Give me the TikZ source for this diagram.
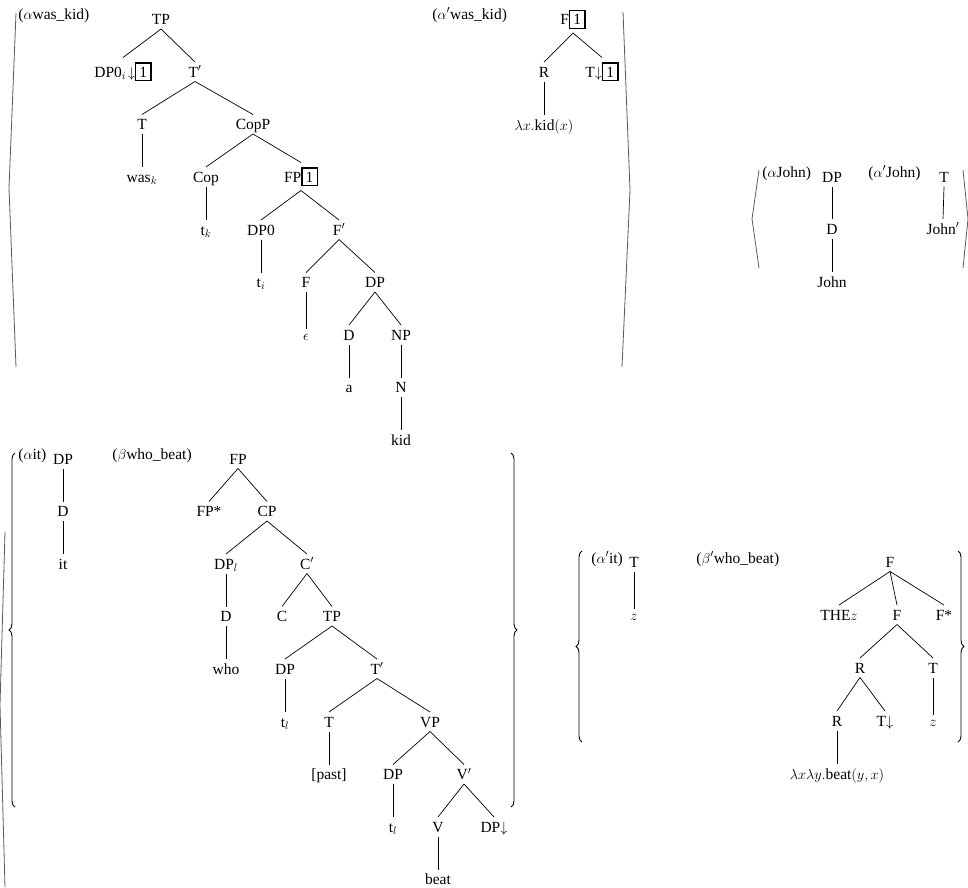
\documentclass[tikz,border=0pt]{standalone}
\usepackage{fontspec}
\setmainfont{Liberation Serif}
\usetikzlibrary{decorations.pathreplacing}
\newcommand{\treefont}{\fontsize{15.5}{18}\selectfont}
\newcommand{\boxnum}[1]{{\setlength{\fboxsep}{3pt}\setlength{\fboxrule}{1.4pt}\fbox{#1}}}
\begin{document}
\begin{tikzpicture}[x=1pt,y=-1pt,
    tn/.style={anchor=base, font=\treefont, inner sep=0pt, outer sep=4.5pt, text height=10.5pt, text depth=0pt},
    tnb/.style={tn, text height=15pt, text depth=4pt},
    tnx/.style={tn, text height=7pt},
    lab/.style={anchor=base west, font=\treefont, inner sep=0pt},
    ang/.style={draw=black!65, line width=0.8pt},
    brc/.style={decorate, decoration={brace, amplitude=6pt}, line width=0.9pt},
    every path/.style={line width=0.7pt}]
                \useasboundingbox (0,0) rectangle (968,887);
                \node[lab] at (18,19) {($\alpha$was\_kid)};
                \node[tn] (atp) at (161,24.5) {TP};
                \node[tnb] (adp) at (123,77) {DP0$_i\!\downarrow$\boxnum{1}};
                \node[tn] (atb) at (195,77) {T$'$};
                \node[tn] (at) at (142,129.5) {T};
                \node[tn] (acopp) at (253,129.5) {CopP};
                \node[tn] (awas) at (142,182) {was$_k$};
                \node[tn] (acop) at (206,182) {Cop};
                \node[tnb] (afp) at (301,182) {FP\boxnum{1}};
                \node[tn] (atk) at (206,235) {t$_k$};
                \node[tn] (adpz) at (261,235) {DP0};
                \node[tn] (afb) at (339,235) {F$'$};
                \node[tn] (ati) at (261,287.5) {t$_i$};
                \node[tn] (af) at (306,287.5) {F};
                \node[tn] (adp2) at (375,287.5) {DP};
                \node[tnx] (aeps) at (306,340) {$\epsilon$};
                \node[tn] (ad) at (349,340) {D};
                \node[tn] (anp) at (401,340) {NP};
                \node[tn] (aa) at (349,392.5) {a};
                \node[tn] (an) at (401,392.5) {N};
                \node[tn] (akid) at (401,445) {kid};
                \draw (atp.south) -- (adp.north);
                \draw (atp.south) -- (atb.north);
                \draw (atb.south) -- (at.north);
                \draw (atb.south) -- (acopp.north);
                \draw (at.south) -- (awas.north);
                \draw (acopp.south) -- (acop.north);
                \draw (acopp.south) -- (afp.north);
                \draw (acop.south) -- (atk.north);
                \draw (afp.south) -- (adpz.north);
                \draw (afp.south) -- (afb.north);
                \draw (adpz.south) -- (ati.north);
                \draw (afb.south) -- (af.north);
                \draw (afb.south) -- (adp2.north);
                \draw (af.south) -- (aeps.north);
                \draw (adp2.south) -- (ad.north);
                \draw (adp2.south) -- (anp.north);
                \draw (ad.south) -- (aa.north);
                \draw (anp.south) -- (an.north);
                \draw (an.south) -- (akid.north);

                \node[lab] at (432,19) {($\alpha'$was\_kid)};
                \node[tnb] (bf) at (573,24.5) {F\boxnum{1}};
                \node[tn] (br) at (544,77) {R};
                \node[tnb] (bt) at (602,77) {T$\downarrow$\boxnum{1}};
                \node[tn] (blam) at (544,130) {$\lambda x.$kid$(x)$};
                \draw (bf.south) -- (br.north);
                \draw (bf.south) -- (bt.north);
                \draw (br.south) -- (blam.north);
                \draw[ang] (16,13) -- (9,188) -- (16,367);
                \draw[ang] (623,12) -- (630,190) -- (622,367);

                \node[lab] at (762,177) {($\alpha$John)};
                \node[tn] (jdp) at (832,182) {DP};
                \node[tn] (jd) at (832,234) {D};
                \node[tn] (jjohn) at (832,287) {John};
                \node[lab] at (868,177) {($\alpha'$John)};
                \node[tn] (kt) at (944,182) {T};
                \node[tn] (kjohn) at (943,234) {John$'$};
                \draw (jdp.south) -- (jd.north);
                \draw (jd.south) -- (jjohn.north);
                \draw (kt.south) -- (kjohn.north);
                \draw[ang] (759,170) -- (752,219) -- (759,268);
                \draw[ang] (963,170) -- (968,219) -- (963,268);

                \node[lab] at (18,459) {($\alpha$it)};
                \node[tn] (cdp) at (63,464) {DP};
                \node[tn] (cd) at (63,516.5) {D};
                \node[tn] (cit) at (63,569) {it};
                \draw (cdp.south) -- (cd.north);
                \draw (cd.south) -- (cit.north);
                \node[lab] at (112,459) {($\beta$who\_beat)};
                \node[tn] (dfp) at (238,464) {FP};
                \node[tn] (dfps) at (209,516.5) {FP*};
                \node[tn] (dcp) at (267,516.5) {CP};
                \node[tn] (ddpl) at (226,569) {DP$_l$};
                \node[tn] (dcb) at (307,569) {C$'$};
                \node[tn] (dd) at (226,621.5) {D};
                \node[tn] (dc) at (282,621.5) {C};
                \node[tn] (dtp) at (332,621.5) {TP};
                \node[tn] (dwho) at (226,674) {who};
                \node[tn] (ddp) at (285,674) {DP};
                \node[tn] (dtb) at (377,674) {T$'$};
                \node[tn] (dtl) at (285,727) {t$_l$};
                \node[tn] (dt) at (329,727) {T};
                \node[tn] (dvp) at (430,727) {VP};
                \node[tn] (dpast) at (329,779.5) {[past]};
                \node[tn] (ddp2) at (393,779.5) {DP};
                \node[tn] (dvb) at (464,779.5) {V$'$};
                \node[tn] (dtl2) at (393,832) {t$_l$};
                \node[tn] (dv) at (438,832) {V};
                \node[tn] (ddpd) at (494,832) {DP$\downarrow$};
                \node[tn] (dbeat) at (438,884.5) {beat};
                \draw (dfp.south) -- (dfps.north);
                \draw (dfp.south) -- (dcp.north);
                \draw (dcp.south) -- (ddpl.north);
                \draw (dcp.south) -- (dcb.north);
                \draw (ddpl.south) -- (dd.north);
                \draw (dcb.south) -- (dc.north);
                \draw (dcb.south) -- (dtp.north);
                \draw (dd.south) -- (dwho.north);
                \draw (dtp.south) -- (ddp.north);
                \draw (dtp.south) -- (dtb.north);
                \draw (ddp.south) -- (dtl.north);
                \draw (dtb.south) -- (dt.north);
                \draw (dtb.south) -- (dvp.north);
                \draw (dt.south) -- (dpast.north);
                \draw (dvp.south) -- (ddp2.north);
                \draw (dvp.south) -- (dvb.north);
                \draw (ddp2.south) -- (dtl2.north);
                \draw (dvb.south) -- (dv.north);
                \draw (dvb.south) -- (ddpd.north);
                \draw (dv.south) -- (dbeat.north);
                \draw[brc] (15,807) -- (15,453);
                \draw[brc] (511,453) -- (511,807);
                \draw[ang] (5,532) -- (0,705) -- (5,887);

                \node[lab] at (591,563) {($\alpha'$it)};
                \node[tn] (et) at (634,567) {T};
                \node[tnx] (ez) at (634,620) {$z$};
                \draw (et.south) -- (ez.north);
                \node[lab] at (696,563) {($\beta'$who\_beat)};
                \node[tn] (ff) at (890,567) {F};
                \node[tn] (fthe) at (839,620) {THE$z$};
                \node[tn] (ff2) at (897,620) {F};
                \node[tn] (ffs) at (944,620) {F*};
                \node[tn] (fr) at (860,673) {R};
                \node[tn] (ft) at (933,673) {T};
                \node[tn] (fr2) at (837,726) {R};
                \node[tn] (ftd) at (885,726) {T$\downarrow$};
                \node[tnx] (fz) at (933,726) {$z$};
                \node[tn] (flam) at (837,779) {$\lambda x\lambda y.$beat$(y,x)$};
                \draw (ff.south) -- (fthe.north);
                \draw (ff.south) -- (ff2.north);
                \draw (ff.south) -- (ffs.north);
                \draw (ff2.south) -- (fr.north);
                \draw (ff2.south) -- (ft.north);
                \draw (fr.south) -- (fr2.north);
                \draw (fr.south) -- (ftd.north);
                \draw (ft.south) -- (fz.north);
                \draw (fr2.south) -- (flam.north);
                \draw[brc] (582,742) -- (582,551);
                \draw[brc] (958,551) -- (958,742);
            \end{tikzpicture}
\end{document}
